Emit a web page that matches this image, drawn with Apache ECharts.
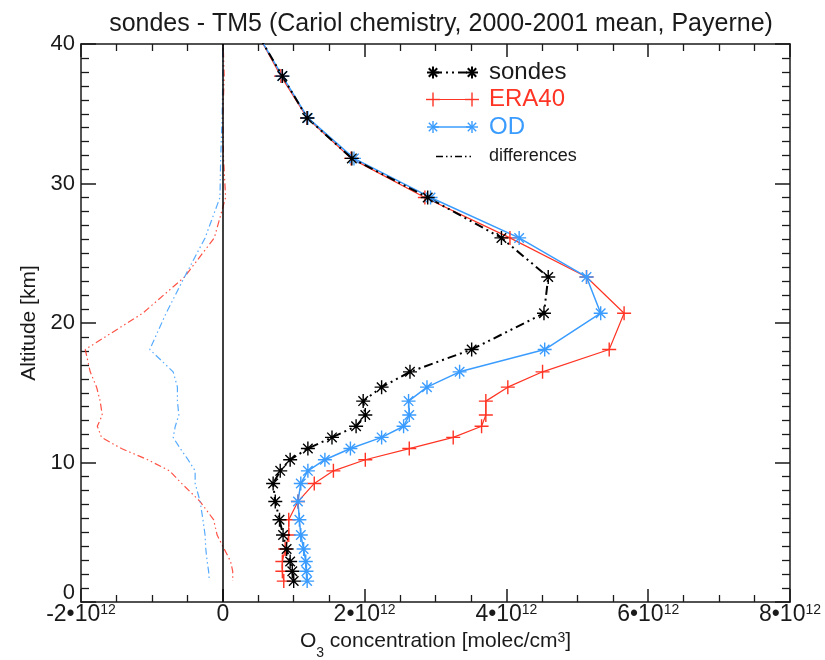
<!DOCTYPE html>
<html>
<head>
<meta charset="utf-8">
<script src="https://cdn.jsdelivr.net/npm/echarts@6/dist/echarts.min.js"></script>
<style>
  html, body { margin: 0; padding: 0; background: #fff; }
  #chart { width: 825px; height: 660px; }
</style>
</head>
<body>
<div id="chart"></div>
<script>
// Altitude of each profile level (km); the first level lies just above the plotted range
const altitudeKm = [40.9, 37.7, 34.7, 31.8, 29.0, 26.1, 23.3, 20.7, 18.1, 16.5, 15.4, 14.4, 13.4,
                    12.6, 11.8, 11.0, 10.2, 9.4, 8.5, 7.2, 5.9, 4.8, 3.8, 2.9, 2.2, 1.5];
// O3 concentration profiles, in units of 1e12 molec/cm3
const sondesO3 = [0.47, 0.84, 1.19, 1.82, 2.89, 3.93, 4.59, 4.53, 3.51, 2.64, 2.24, 1.98, 2.01,
                  1.88, 1.54, 1.20, 0.95, 0.81, 0.71, 0.74, 0.80, 0.85, 0.90, 0.95, 0.98, 1.00];
const era40O3  = [0.47, 0.82, 1.19, 1.81, 2.85, 4.05, 5.13, 5.66, 5.45, 4.51, 4.02, 3.71, 3.71,
                  3.65, 3.25, 2.63, 2.01, 1.56, 1.29, 1.06, 0.93, 0.93, 0.88, 0.84, 0.84, 0.86];
const odO3     = [0.47, 0.84, 1.20, 1.85, 2.93, 4.18, 5.13, 5.33, 4.54, 3.34, 2.88, 2.62, 2.63,
                  2.55, 2.24, 1.80, 1.44, 1.20, 1.10, 1.06, 1.08, 1.10, 1.14, 1.17, 1.18, 1.19];
// Axis ticks
const xTicks = [-2, 0, 2, 4, 6, 8];
const yTicks = [0, 10, 20, 30, 40];

const FONT = 'Liberation Sans, Arial, sans-serif';
const INK = '#1a1a1a';
const RED = '#ff3424';
const BLUE = '#3a9cff';

// Filled outlines for the plot symbols (thin bars so they read like stroked glyphs)
const PLUS = 'path://M9,0 H11 V9 H20 V11 H11 V20 H9 V11 H0 V9 H9 Z';
const STAR = 'path://M0,9 H20 V11 H0 Z M9,0 H11 V20 H9 Z ' +
             'M2.5,3.9 L3.9,2.5 L17.5,16.1 L16.1,17.5 Z M16.1,2.5 L17.5,3.9 L3.9,17.5 L2.5,16.1 Z';

const pairs = (xs) => xs.map((v, i) => [v, altitudeKm[i]]);
// sondes minus model, level by level
const diffEra = sondesO3.map((v, i) => +(v - era40O3[i]).toFixed(3));
const diffOd  = sondesO3.map((v, i) => +(v - odO3[i]).toFixed(3));

const DASH_DOT_DOT = [9, 4, 2, 4, 2, 4];
const DIFF_DASH = [7, 3, 1.5, 3, 1.5, 3];

function xLabel(v) {
  if (v === 0) return '0';
  return '{m|' + v + '•10}{e|12}';
}
function yLabel(v) {
  // the zero label sits a little above the corner
  return v === 0 ? '{z|0}' : String(v);
}

// legend drawing helpers
function starLines(cx, cy, r, color, w) {
  const d = r * 0.7;
  return [
    [cx - r, cy, cx + r, cy], [cx, cy - r, cx, cy + r],
    [cx - d, cy - d, cx + d, cy + d], [cx - d, cy + d, cx + d, cy - d]
  ].map(s => ({ type: 'line', shape: { x1: s[0], y1: s[1], x2: s[2], y2: s[3] },
                style: { stroke: color, lineWidth: w }, silent: true }));
}
function plusLines(cx, cy, r, color, w) {
  return [[cx - r, cy, cx + r, cy], [cx, cy - r, cx, cy + r]]
    .map(s => ({ type: 'line', shape: { x1: s[0], y1: s[1], x2: s[2], y2: s[3] },
                 style: { stroke: color, lineWidth: w }, silent: true }));
}
function legendRow(y, color, dash, w, label, size) {
  return [
    { type: 'line', shape: { x1: 433, y1: y, x2: 472, y2: y },
      style: { stroke: color, lineWidth: w, lineDash: dash }, silent: true },
    { type: 'text', x: 489, y: y,
      style: { text: label, fill: color === '#000' ? INK : color, fontSize: size,
               fontFamily: FONT, verticalAlign: 'middle' }, silent: true }
  ];
}

const legendGraphics = [].concat(
  legendRow(72.5, '#000', DASH_DOT_DOT, 2, 'sondes', 24),
  starLines(433, 72.5, 6, '#000', 2), starLines(472, 72.5, 6, '#000', 2),
  legendRow(99.5, RED, null, 1.2, 'ERA40', 24),
  plusLines(433, 99.5, 7, RED, 1.4), plusLines(472, 99.5, 7, RED, 1.4),
  legendRow(127, BLUE, null, 1.5, 'OD', 24),
  starLines(433, 127, 6, BLUE, 1.4), starLines(472, 127, 6, BLUE, 1.4),
  [{ type: 'line', shape: { x1: 436, y1: 156.5, x2: 471, y2: 156.5 },
     style: { stroke: '#000', lineWidth: 1.3, lineDash: DIFF_DASH }, silent: true },
   { type: 'text', x: 489, y: 156.5,
     style: { text: 'differences', fill: INK, fontSize: 18, fontFamily: FONT, verticalAlign: 'middle' },
     silent: true }]
);

const frameAxis = {
  axisLine: { show: true, onZero: false, lineStyle: { color: INK, width: 1.5 } },
  axisTick: { show: true, inside: true, length: 13, lineStyle: { color: INK, width: 1.5 } },
  splitLine: { show: false }
};

const chart = echarts.init(document.getElementById('chart'), null, { renderer: 'canvas' });
chart.setOption({
  animation: false,
  backgroundColor: '#fff',
  title: {
    text: 'sondes - TM5 (Cariol chemistry, 2000-2001 mean, Payerne)',
    left: 436, top: 7, textAlign: 'center',
    textStyle: { fontFamily: FONT, fontSize: 25, fontWeight: 'normal', color: INK }
  },
  grid: { left: 81, right: 35, top: 44, bottom: 58, containLabel: false, outerBoundsMode: 'none' },
  xAxis: [
    Object.assign({}, frameAxis, {
      type: 'value', position: 'bottom', min: xTicks[0], max: xTicks[xTicks.length - 1], interval: 2,
      minorTick: { show: true, splitNumber: 4, length: 7, lineStyle: { color: INK, width: 1.3 } },
      axisLabel: {
        formatter: xLabel, margin: 1, color: INK, fontFamily: FONT, fontSize: 23,
        rich: {
          m: { fontFamily: FONT, fontSize: 23, color: INK },
          e: { fontFamily: FONT, fontSize: 14, color: INK, verticalAlign: 'top', padding: [0, 0, 8, 0] }
        }
      },
      name: 'O{sub|3} concentration [molec/cm{sup|3}]',
      nameLocation: 'middle', nameGap: 16,
      nameTextStyle: {
        fontFamily: FONT, fontSize: 21, color: INK,
        rich: {
          sub: { fontFamily: FONT, fontSize: 14, color: INK, verticalAlign: 'bottom', padding: [0, 0, -8, 0] },
          sup: { fontFamily: FONT, fontSize: 14, color: INK, verticalAlign: 'top', padding: [0, 0, 6, 0] }
        }
      }
    }),
    Object.assign({}, frameAxis, {
      type: 'value', position: 'top', min: xTicks[0], max: xTicks[xTicks.length - 1], interval: 2,
      minorTick: { show: true, splitNumber: 4, length: 7, lineStyle: { color: INK, width: 1.3 } },
      axisLabel: { show: false }
    })
  ],
  yAxis: [
    Object.assign({}, frameAxis, {
      type: 'value', position: 'left', min: yTicks[0], max: yTicks[yTicks.length - 1], interval: 10,
      axisTick: { show: true, inside: true, length: 15, lineStyle: { color: INK, width: 1.5 } },
      minorTick: { show: true, splitNumber: 10, length: 8, lineStyle: { color: INK, width: 1.3 } },
      axisLabel: {
        formatter: yLabel, margin: 6, color: INK, fontFamily: FONT, fontSize: 22,
        rich: { z: { fontFamily: FONT, fontSize: 22, color: INK, padding: [0, 0, 18, 0] } }
      },
      name: 'Altitude [km]', nameLocation: 'middle', nameGap: 40, nameRotate: 90,
      nameTextStyle: { fontFamily: FONT, fontSize: 21, color: INK }
    }),
    Object.assign({}, frameAxis, {
      type: 'value', position: 'right', min: yTicks[0], max: yTicks[yTicks.length - 1], interval: 10,
      axisTick: { show: true, inside: true, length: 15, lineStyle: { color: INK, width: 1.5 } },
      minorTick: { show: true, splitNumber: 10, length: 8, lineStyle: { color: INK, width: 1.3 } },
      axisLabel: { show: false }
    })
  ],
  series: [
    {
      name: 'sondes - ERA40', type: 'line', data: pairs(diffEra), clip: true,
      showSymbol: false, symbol: 'none',
      lineStyle: { color: RED, width: 1.2, type: DIFF_DASH, opacity: 0.85 }
    },
    {
      name: 'sondes - OD', type: 'line', data: pairs(diffOd), clip: true,
      showSymbol: false, symbol: 'none',
      lineStyle: { color: BLUE, width: 1.2, type: DIFF_DASH, opacity: 0.85 }
    },
    {
      name: 'ERA40', type: 'line', data: pairs(era40O3), clip: true,
      symbol: PLUS, symbolSize: 14, showAllSymbol: true,
      itemStyle: { color: RED, borderWidth: 0 },
      lineStyle: { color: RED, width: 1.2 }
    },
    {
      name: 'OD', type: 'line', data: pairs(odO3), clip: true,
      symbol: STAR, symbolSize: 14, showAllSymbol: true,
      itemStyle: { color: BLUE, borderWidth: 0 },
      lineStyle: { color: BLUE, width: 1.5 }
    },
    {
      name: 'sondes', type: 'line', data: pairs(sondesO3), clip: true,
      symbol: STAR, symbolSize: 14, showAllSymbol: true,
      itemStyle: { color: '#000', borderWidth: 0 },
      lineStyle: { color: '#000', width: 2, type: DASH_DOT_DOT },
      markLine: {
        silent: true, symbol: ['none', 'none'], label: { show: false },
        lineStyle: { color: '#000', type: 'solid', width: 1.5 },
        data: [{ xAxis: 0 }]
      }
    }
  ],
  graphic: legendGraphics
});
</script>
</body>
</html>
